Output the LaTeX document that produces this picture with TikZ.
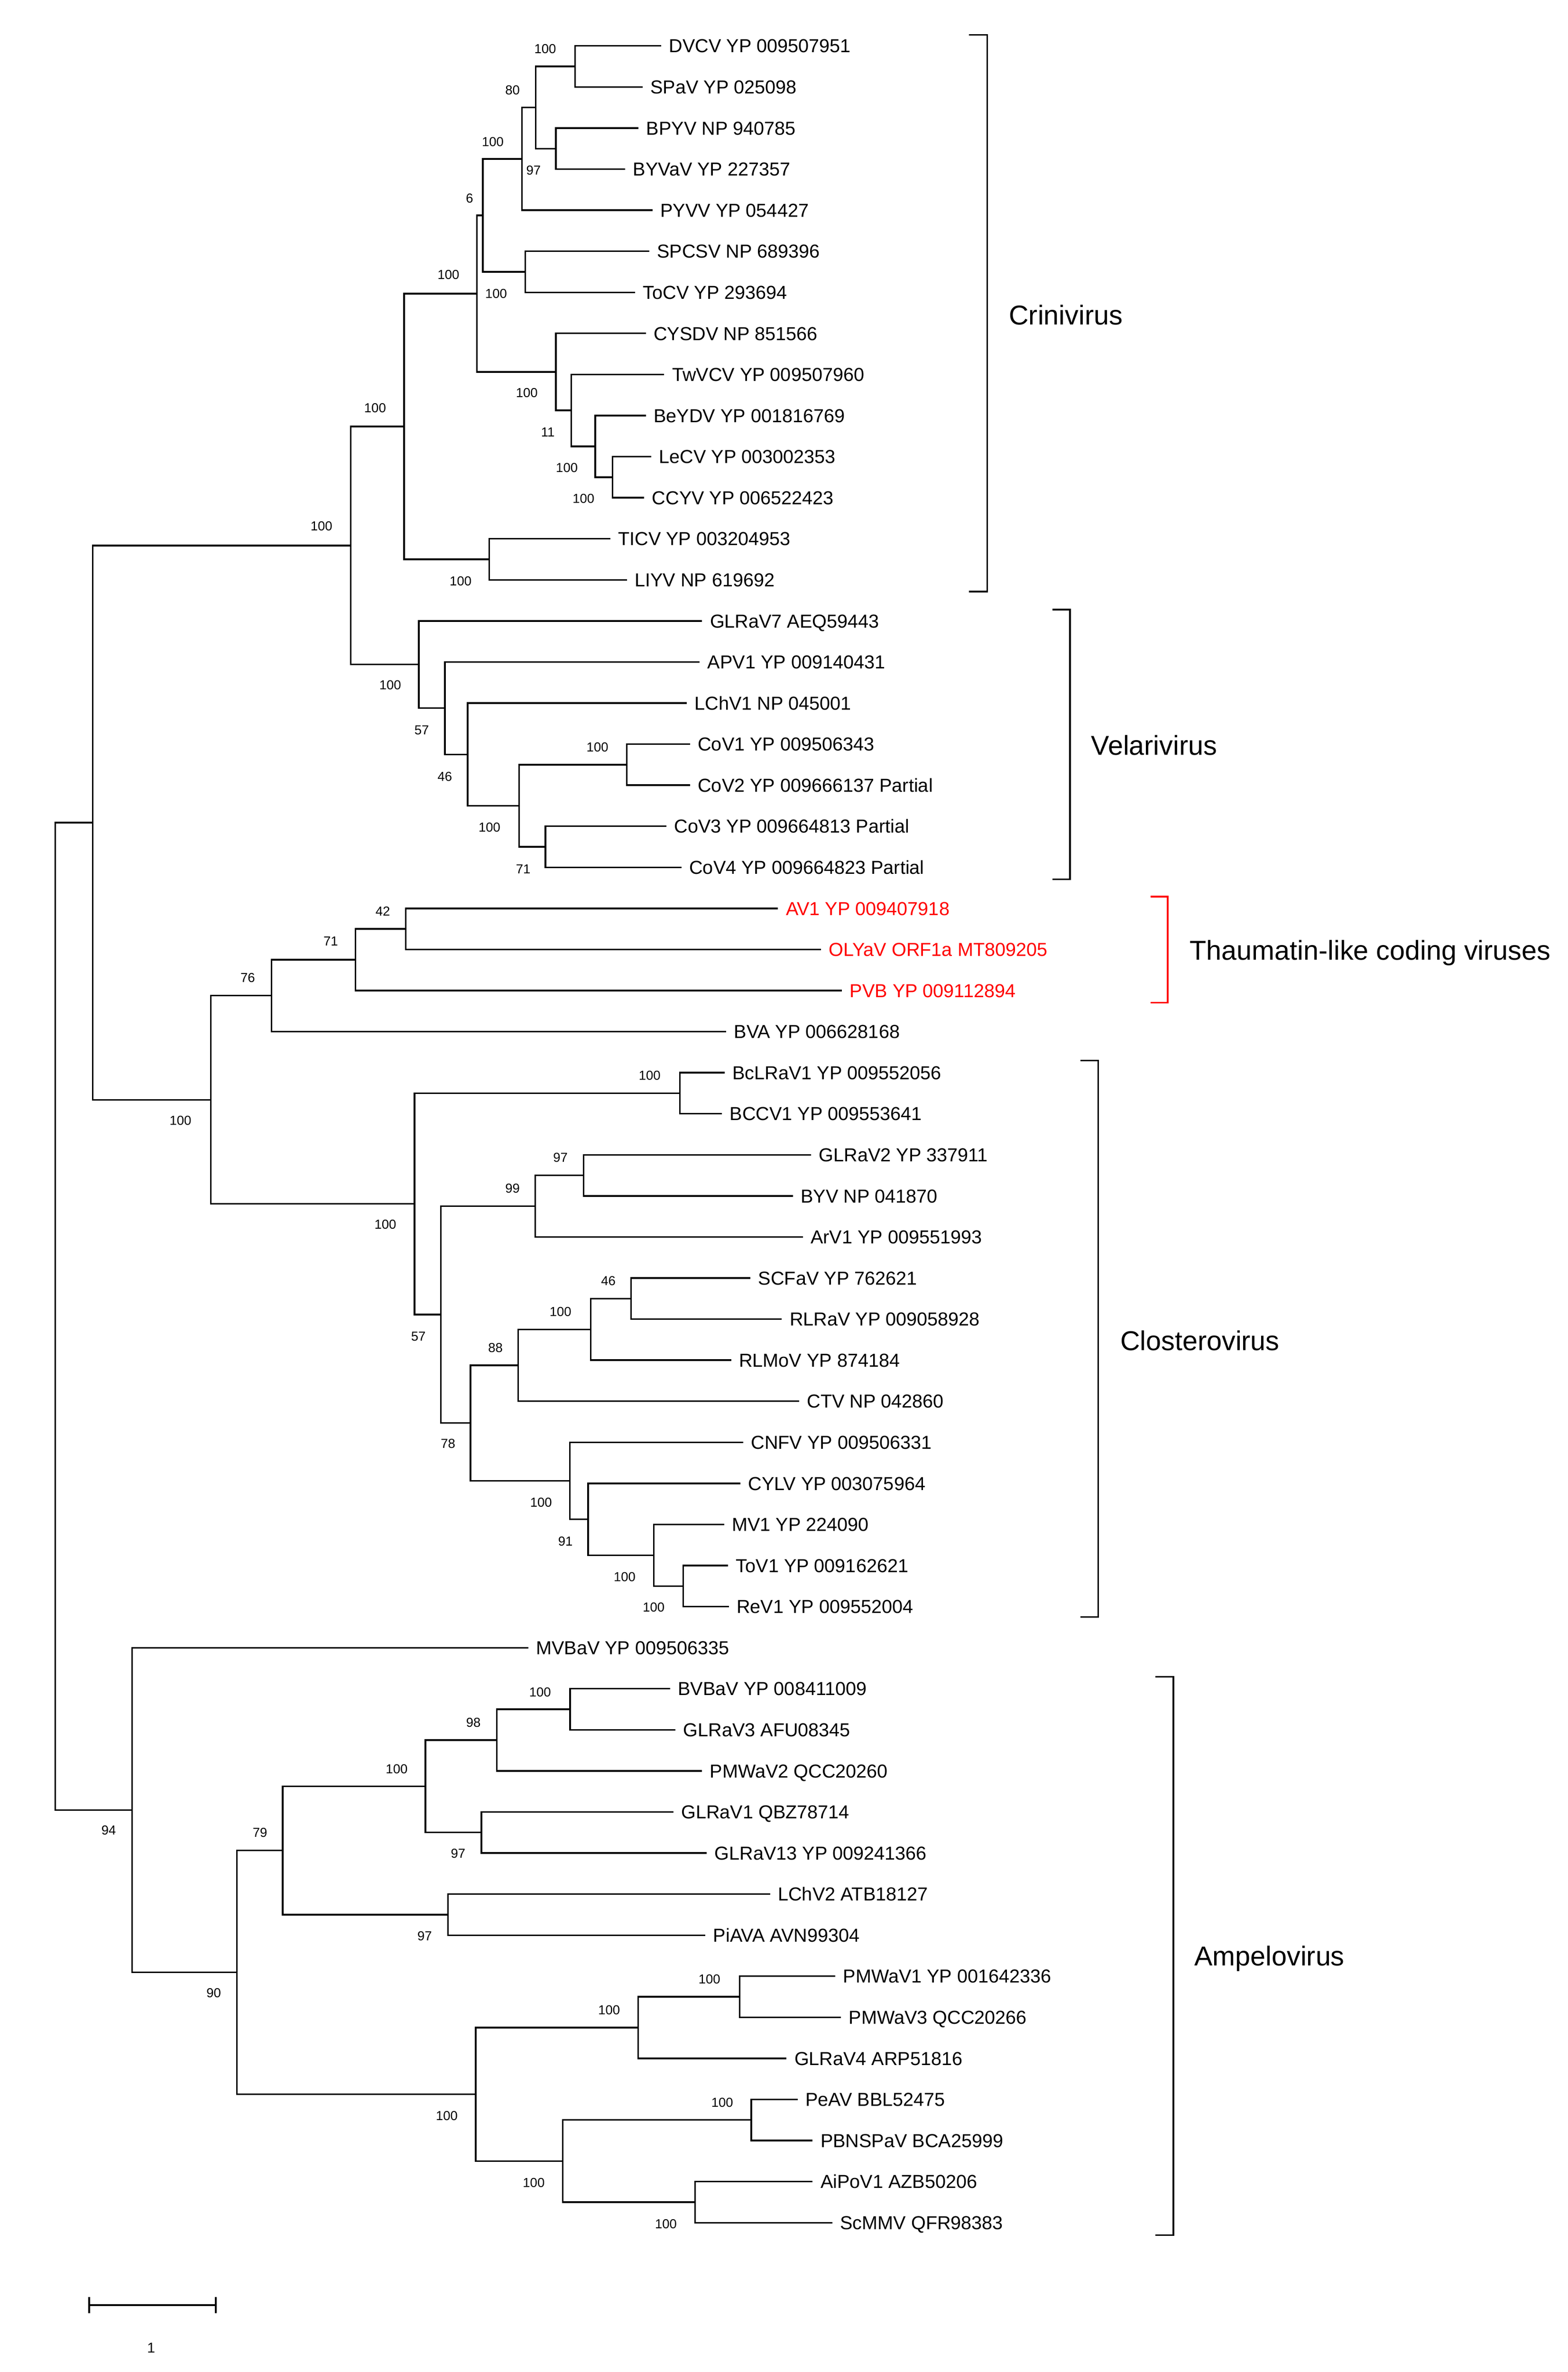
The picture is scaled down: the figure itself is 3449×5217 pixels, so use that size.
\documentclass[tikz,border=0pt]{standalone}
\usepackage{fontspec}
\setmainfont{Liberation Sans}
\usetikzlibrary{calc}
\tikzset{
  br/.style={line width=1.05pt, line join=miter},
  brk/.style={line width=1.05pt, line join=miter},
  sbar/.style={line width=1.4pt},
  leaflab/.style={anchor=west, inner sep=0pt, xshift=5pt, font=\fontsize{12.4}{14}\selectfont, text height=8.88pt, text depth=0pt},
  bs/.style={inner sep=0pt, font=\fontsize{8.6}{10}\selectfont, text height=6.16pt, text depth=0pt},
  clade/.style={anchor=west, inner sep=0pt, font=\fontsize{18}{21}\selectfont, text height=12.9pt, text depth=0pt},
}
% leaf: [colour]{name}{tip x}{row}{text}
\newcommand\lf[5][black]{%
  \coordinate (#2) at (#3,{101+90.33*(#4-1)});
  \node[leaflab,text=#1] (t#2) at (#2) {#5};}
% internal node: {name}{x}{child A}{child B}
\newcommand\tn[4]{%
  \path let \p1=($(#3)!0.5!(#4)$) in ({#2*0.3pt},\y1) coordinate (#1);
  \draw[br] (#3) -| (#1) |- (#4);}
\begin{document}
\begin{tikzpicture}[x=0.3pt,y=-0.3pt]
\fill[white] (0,0) rectangle (3449,5217);
\useasboundingbox (0,0) rectangle (3449,5217);
% ---------- leaves ----------
\lf{L1}{1454.6}{1}{DVCV YP 009507951}
\lf{L2}{1413.5}{2}{SPaV YP 025098}
\lf{L3}{1404.7}{3}{BPYV NP 940785}
\lf{L4}{1375.4}{4}{BYVaV YP 227357}
\lf{L5}{1435.5}{5}{PYVV YP 054427}
\lf{L6}{1428.2}{6}{SPCSV NP 689396}
\lf{L7}{1397.4}{7}{ToCV YP 293694}
\lf{L8}{1420.8}{8}{CYSDV NP 851566}
\lf{L9}{1461.2}{9}{TwVCV YP 009507960}
\lf{L10}{1420.8}{10}{BeYDV YP 001816769}
\lf{L11}{1432.6}{11}{LeCV YP 003002353}
\lf{L12}{1417.2}{12}{CCYV YP 006522423}
\lf{L13}{1342.4}{13}{TICV YP 003204953}
\lf{L14}{1379}{14}{LIYV NP 619692}
\lf{L15}{1544.7}{15}{GLRaV7 AEQ59443}
\lf{L16}{1539.3}{16}{APV1 YP 009140431}
\lf{L17}{1510.8}{17}{LChV1 NP 045001}
\lf{L18}{1517.9}{18}{CoV1 YP 009506343}
\lf{L19}{1517.9}{19}{CoV2 YP 009666137 Partial}
\lf{L20}{1466.1}{20}{CoV3 YP 009664813 Partial}
\lf{L21}{1499.1}{21}{CoV4 YP 009664823 Partial}
\lf[red]{L22}{1711.6}{22}{AV1 YP 009407918}
\lf[red]{L23}{1806}{23}{OLYaV ORF1a MT809205}
\lf[red]{L24}{1852.2}{24}{PVB YP 009112894}
\lf{L25}{1597.5}{25}{BVA YP 006628168}
\lf{L26}{1594.1}{26}{BcLRaV1 YP 009552056}
\lf{L27}{1588}{27}{BCCV1 YP 009553641}
\lf{L28}{1784.3}{28}{GLRaV2 YP 337911}
\lf{L29}{1744.4}{29}{BYV NP 041870}
\lf{L30}{1766.2}{30}{ArV1 YP 009551993}
\lf{L31}{1651}{31}{SCFaV YP 762621}
\lf{L32}{1720}{32}{RLRaV YP 009058928}
\lf{L33}{1608.6}{33}{RLMoV YP 874184}
\lf{L34}{1758}{34}{CTV NP 042860}
\lf{L35}{1634.9}{35}{CNFV YP 009506331}
\lf{L36}{1628.6}{36}{CYLV YP 003075964}
\lf{L37}{1592.9}{37}{MV1 YP 224090}
\lf{L38}{1601.8}{38}{ToV1 YP 009162621}
\lf{L39}{1603.4}{39}{ReV1 YP 009552004}
\lf{L40}{1162}{40}{MVBaV YP 009506335}
\lf{L41}{1474.1}{41}{BVBaV YP 008411009}
\lf{L42}{1485.9}{42}{GLRaV3 AFU08345}
\lf{L43}{1544.5}{43}{PMWaV2 QCC20260}
\lf{L44}{1481.5}{44}{GLRaV1 QBZ78714}
\lf{L45}{1554.8}{45}{GLRaV13 YP 009241366}
\lf{L46}{1694.2}{46}{LChV2 ATB18127}
\lf{L47}{1551.9}{47}{PiAVA AVN99304}
\lf{L48}{1837.5}{48}{PMWaV1 YP 001642336}
\lf{L49}{1850.2}{49}{PMWaV3 QCC20266}
\lf{L50}{1730.4}{50}{GLRaV4 ARP51816}
\lf{L51}{1754.6}{51}{PeAV BBL52475}
\lf{L52}{1787.8}{52}{PBNSPaV BCA25999}
\lf{L53}{1787.8}{53}{AiPoV1 AZB50206}
\lf{L54}{1831.1}{54}{ScMMV QFR98383}
% ---------- Crinivirus ----------
\tn{A1}{1265.4}{L1}{L2}
\tn{A2}{1222.8}{L3}{L4}
\tn{A3}{1178.8}{A1}{A2}
\tn{A4}{1148}{A3}{L5}
\tn{A5}{1155.4}{L6}{L7}
\tn{A6}{1062.2}{A4}{A5}
\tn{B4}{1347.5}{L11}{L12}
\tn{B3}{1309.4}{L10}{B4}
\tn{B2}{1256.6}{L9}{B3}
\tn{B1}{1222.8}{L8}{B2}
\tn{A7}{1049}{A6}{B1}
\tn{B5}{1076.3}{L13}{L14}
\tn{C1}{888.9}{A7}{B5}
% ---------- Velarivirus ----------
\tn{V4}{1378.6}{L18}{L19}
\tn{V6}{1200}{L20}{L21}
\tn{V5}{1142}{V4}{V6}
\tn{V3}{1028.6}{L17}{V5}
\tn{V2}{978.6}{L16}{V3}
\tn{V1}{921.4}{L15}{V2}
\tn{C0}{771.5}{C1}{V1}
% ---------- Thaumatin-like ----------
\tn{T1}{892.4}{L22}{L23}
\tn{T2}{781.9}{T1}{L24}
\tn{T3}{597.2}{T2}{L25}
% ---------- Closterovirus ----------
\tn{K2}{1496}{L26}{L27}
\tn{K3}{1283.9}{L28}{L29}
\tn{K4}{1177.3}{K3}{L30}
\tn{K6}{1388.1}{L31}{L32}
\tn{K7}{1299.7}{K6}{L33}
\tn{K8}{1140}{K7}{L34}
\tn{K13}{1502.7}{L38}{L39}
\tn{K12}{1438.4}{L37}{K13}
\tn{K11}{1293.8}{L36}{K12}
\tn{K10}{1253.6}{L35}{K11}
\tn{K9}{1035}{K8}{K10}
\tn{K5}{970}{K4}{K9}
\tn{K1}{911.9}{K2}{K5}
\tn{T4}{463.6}{T3}{K1}
\tn{R1}{204}{C0}{T4}
% ---------- Ampelovirus ----------
\tn{M1}{1254.1}{L41}{L42}
\tn{M2}{1092.8}{M1}{L43}
\tn{M3}{1059}{L44}{L45}
\tn{M4}{935.8}{M2}{M3}
\tn{M5}{985.7}{L46}{L47}
\tn{M6}{622}{M4}{M5}
\tn{M10}{1627}{L48}{L49}
\tn{M11}{1403.8}{M10}{L50}
\tn{M12}{1652.6}{L51}{L52}
\tn{M13}{1528.8}{L53}{L54}
\tn{M14}{1238}{M12}{M13}
\tn{M9}{1046.7}{M11}{M14}
\tn{M7}{521}{M6}{M9}
\tn{A0}{290.4}{L40}{M7}
\tn{R0}{121.7}{R1}{A0}
% ---------- bootstrap values ----------
\node[bs] (bA1) at (1199.4,107.3) {100};
\node[bs] (bA3) at (1127.5,197.8) {80};
\node[bs] (bA4) at (1084.2,311.5) {100};
\node[bs] (bA2) at (1173.7,374.6) {97};
\node[bs] (bA6) at (1032.9,435.6) {6};
\node[bs] (bA7) at (986.5,603.4) {100};
\node[bs] (bA5) at (1091.5,646) {100};
\node[bs] (bC1) at (825.2,897) {100};
\node[bs] (bC0) at (707.2,1157) {100};
\node[bs] (bB1) at (1159,863.8) {100};
\node[bs] (bB2) at (1205.2,950.1) {11};
\node[bs] (bB3) at (1247,1028) {100};
\node[bs] (bB4) at (1283.7,1096.2) {100};
\node[bs] (bB5) at (1013.3,1277.5) {100};
\node[bs] (bV1) at (858.5,1506.7) {100};
\node[bs] (bV2) at (927.7,1605.3) {57};
\node[bs] (bV3) at (978.6,1707.2) {46};
\node[bs] (bV4) at (1314.3,1643) {100};
\node[bs] (bV5) at (1076.8,1819.1) {100};
\node[bs] (bV6) at (1150.9,1911) {71};
\node[bs] (bT1) at (842.2,2004) {42};
\node[bs] (bT2) at (727.7,2070) {71};
\node[bs] (bT3) at (545,2150) {76};
\node[bs] (bT4) at (397,2464.3) {100};
\node[bs] (bK2) at (1429.3,2364.8) {100};
\node[bs] (bK3) at (1233,2546) {97};
\node[bs] (bK4) at (1127.6,2613.3) {99};
\node[bs] (bK1) at (847.7,2692.9) {100};
\node[bs] (bK6) at (1338.4,2817.3) {46};
\node[bs] (bK7) at (1233,2884.2) {100};
\node[bs] (bK5) at (920.4,2938.8) {57};
\node[bs] (bK8) at (1090,2964.3) {88};
\node[bs] (bK9) at (985.7,3175) {78};
\node[bs] (bK10) at (1190.2,3303.6) {100};
\node[bs] (bK11) at (1243.8,3389.4) {91};
\node[bs] (bK12) at (1374.1,3468.1) {100};
\node[bs] (bK13) at (1438,3535) {100};
\node[bs] (bM1) at (1188.1,3720.9) {100};
\node[bs] (bM2) at (1041.4,3788.3) {98};
\node[bs] (bM4) at (872.7,3890.3) {100};
\node[bs] (bA0) at (239.1,4025.5) {94};
\node[bs] (bM6) at (572,4030.6) {79};
\node[bs] (bM3) at (1007.7,4076.5) {97};
\node[bs] (bM5) at (934.3,4257.6) {97};
\node[bs] (bM7) at (470.2,4382.7) {90};
\node[bs] (bM10) at (1560.7,4353) {100};
\node[bs] (bM11) at (1340,4420) {100};
\node[bs] (bM9) at (982.9,4653.4) {100};
\node[bs] (bM12) at (1588.8,4624.2) {100};
\node[bs] (bM14) at (1174.2,4800.3) {100};
\node[bs] (bM13) at (1465,4891.1) {100};
% ---------- clade brackets ----------
\draw[brk] (2132,76.5) -- (2172,76.5) -- (2172,1301) -- (2132,1301);
\node[clade] (cCri) at (2219,692.6) {Crinivirus};
\draw[brk] (2315,1340.6) -- (2354,1340.6) -- (2354,1933.7) -- (2315,1933.7);
\node[clade] (cVel) at (2400,1639) {Velarivirus};
\draw[brk,red] (2531,1972) -- (2569,1972) -- (2569,2205) -- (2531,2205);
\node[clade] (cTha) at (2617,2090) {Thaumatin-like coding viruses};
\draw[brk] (2377,2332.4) -- (2415.8,2332.4) -- (2415.8,3556.6) -- (2377,3556.6);
\node[clade] (cClo) at (2464,2948) {Closterovirus};
\draw[brk] (2542,3688.1) -- (2581.4,3688.1) -- (2581.4,4915.8) -- (2542,4915.8);
\node[clade] (cAmp) at (2627,4302) {Ampelovirus};
% ---------- scale bar ----------
\coordinate (sbL) at (196.4,5070);
\coordinate (sbR) at (474.5,5070);
\draw[sbar] (sbL) -- (sbR);
\draw[sbar] ([yshift=5.3pt]sbL) -- ([yshift=-5.3pt]sbL);
\draw[sbar] ([yshift=5.3pt]sbR) -- ([yshift=-5.3pt]sbR);
\node[bs,font=\fontsize{9.4}{11}\selectfont,text height=6.8pt] (sbT) at (332.6,5163.6) {1};
\end{tikzpicture}
\end{document}
